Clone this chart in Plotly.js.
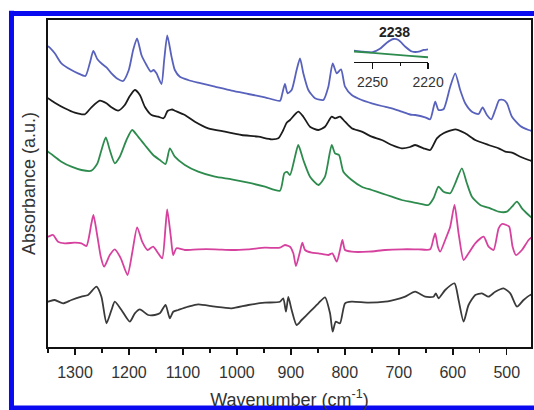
<!DOCTYPE html>
<html>
<head>
<meta charset="utf-8">
<script src="https://cdn.plot.ly/plotly-3.0.1.min.js"></script>
<style>
  html, body { margin: 0; padding: 0; background: #ffffff; overflow: hidden; }
  #chart { width: 534px; height: 410px; }
</style>
</head>
<body>
<div id="chart"></div>
<script>
// Spectrum 1 (blue, top)
const wnBlue = [1352,1348.7,1337.5,1325.2,1306.6,1294.3,1280.7,1272.6,1266,1258.4,1249.7,1241.7,1232.4,1221.3,1210.8,1200.3,1192.2,1185,1176.8,1167.5,1159.5,1154.5,1149,1139.7,1134.7,1129,1121.1,1115,1105.7,1090.2,1071.7,1040.7,1009.8,978.9,948,920,916,911,906,898.5,889.3,883,876.9,867.6,855.2,839.8,830.5,822.5,815,807,799.6,787.2,768.7,750.1,731.6,713,694.5,679,669.6,651.1,641.8,632.5,626.4,617.1,604.7,595.4,586.2,576.9,564.5,552.2,544.7,536.7,528.6,521.2,513.8,505.8,499.6,490.3,474.8,459.4,448.9];
const absBlue = [301,300.3,293.7,283.7,277,273.7,271,283.7,296,287.7,283,279.7,273.7,268.3,266,277,297,308.7,292,282,275.3,277,273.7,263,287,311.5,290.3,277,270.3,267,264.3,260.3,256.3,253,249.7,246.3,253,263,253.7,257,277,288.7,273.7,257,248.7,247,260.3,283.7,273.7,277.7,260.3,252,247,243.7,241,238.7,235.3,232.5,232,229.7,227.7,245.3,237,237.7,260.3,273.7,257,243.7,235.3,233,239.7,232,227.7,237,247,247,243.7,230.3,221,217,215.3];

// Spectrum 2 (black)
const wnBlack = [1352,1350,1337.5,1319,1300.4,1281.9,1269.5,1254.1,1241.7,1232.4,1220.1,1207.7,1198.4,1189.1,1179.8,1170.6,1158.2,1145.8,1136.6,1133.5,1128.5,1120,1115,1096.4,1077.8,1053.1,1022.2,991.3,960.3,935.6,923.2,914,908,901.6,886.2,876.9,864.5,849,836.7,824.3,818.1,808.9,799.6,787.2,768.7,750.1,731.6,713,694.5,679,669.6,654.2,641.8,629.4,617.1,595.4,576.9,558.3,533.6,515,502.7,490.3,474.8,459.4,448.9];
const absBlack = [249,248.7,244.3,238.7,234.3,232.7,239.7,246.3,243.7,239.7,236.3,242,251,257,252,240.3,232,230.3,228.7,230.3,236,237.5,236.3,232,225.3,218.7,215.3,212,210.3,207.7,208.7,217,224,227,235.3,230.3,220.3,217,220.3,230.3,228.7,230.3,225.3,218.7,215.3,210.3,207,202,198.7,200,202,198.7,197,208.7,213.7,217.7,213.7,207,202,198.7,195.3,194.3,190.3,187,185.3];

// Spectrum 3 (green)
const wnGreen = [1352,1350,1337.5,1325.2,1306.6,1288.1,1269.5,1258.4,1250.9,1242.9,1235.5,1226.2,1217,1204.6,1194.1,1183,1170.6,1155.1,1142.8,1132.2,1124.2,1115,1096.4,1071.7,1040.7,1009.8,978.9,948,920.2,912.1,907,901.6,892.3,886.2,876.9,864.5,849,836.7,824.3,818.1,810.7,802.7,787.2,768.7,750.1,731.6,713,694.5,679,663.5,644.9,635.6,626.4,617.1,604.7,595.4,583.1,573.8,564.5,549.1,530.5,515,499.6,490.3,481,471.8,459.4,448.9];
const absGreen = [196,195.3,190.3,185.3,180.3,177,176.3,183.7,197,209.7,197,183.7,190.3,207,217,210.3,202,192,187,183,198.7,190.3,182,175.3,170.3,167.7,164.3,160.3,156.3,173.7,175,172,190.3,202,187,170.3,162,170.3,202,193.7,192,175.3,167,160.3,157,153.7,150.3,147,145.3,143.7,142,148.7,160.3,155.3,153.7,163.7,178.7,163.7,150.3,142,138.7,135.3,135.3,140.3,145.3,138.7,132,127];

// Spectrum 4 (magenta)
const wnMagenta = [1352,1350,1340.6,1331.4,1319,1300.4,1288.1,1278.8,1269.5,1265.8,1258.4,1252.2,1246,1235.5,1226.2,1215.1,1202.7,1194.1,1184.8,1175.5,1165.6,1155.1,1145.8,1138.4,1132.2,1129.1,1122.4,1118,1111.9,1096.4,1071.7,1040.7,1009.8,978.9,948,920.2,910.9,901.6,895.4,890.5,883.1,878.7,873.8,861.4,849,830.5,823.1,815,808.9,804.5,799.6,787.2,756.3,725.4,694.5,663.5,641.8,635.6,632.5,627.6,623.3,614,604.7,596.7,589.2,579.9,570.7,558.3,542.8,533.6,524.3,515,508.9,500.8,495.3,489.1,482.9,471.8,459.4,450.1];
const absMagenta = [110.5,110.3,112,105.3,103.7,104.3,103.7,101,123.7,132,110.3,90.3,80.3,92,97.7,88.7,72,93.7,119.7,105.3,97,100.3,93.7,88.7,120.3,137.7,110.3,92,98.7,97,97.7,97.7,97,97.7,99.3,99.3,102,100.3,93.7,81,95.3,104.3,97,94.3,93.7,92,93.7,85.3,97,107,97,95.3,95.3,97,97.7,97.7,97.7,108.7,113.7,100.3,95.3,107,120.3,142,113.7,87,93.7,103.7,110.3,100.3,97,118.7,123,122,120.3,100.3,92,97,107,111];

// Spectrum 5 (dark grey, bottom)
const wnGrey = [1352,1350,1337.5,1322.1,1306.6,1288.1,1275.7,1260.2,1251,1241.7,1232.4,1226.2,1213.9,1198.4,1189.1,1179.8,1164.4,1152,1142.8,1132.2,1124.2,1118,1108.8,1090.2,1071.7,1040.7,1009.8,978.9,948,920.2,914,909,904.7,898.5,889.3,880,864.5,849,836.7,827.4,822.5,816.9,808.9,799.6,787.2,756.3,725.4,697.6,688.2,669.6,651.1,635.6,631.3,626.4,614,596.7,589.2,579.9,570.7,558.3,545.9,533.6,521.2,505.8,493.4,481,468.7,456.3,448.9];
const absGrey = [45.3,45.3,47,43.7,47,50.3,52,60.3,50.3,23.7,37,45.3,37,25.3,33.7,37.7,32,32,33.7,42,28.7,35.3,37,40.3,42.7,40.3,38.7,42,44.3,45.3,48.7,35.3,50,37,22,27,35.3,43.7,49.7,33.7,15.3,25.3,23.7,43.7,45.3,44.3,45.3,48.7,50.3,55.3,50.3,50.3,53.7,48.7,57,63.7,47,25.3,42,52,53.7,50.3,55.3,58.7,53.7,40.3,47,52,52.7];

// Inset (2260-2220 cm-1)
const wnInsetBlue = [2260,2255,2250,2246,2242.3,2238.7,2236,2232.3,2228.7,2225,2222.4,2220];
const absInsetBlue = [11.3,10.3,9.8,13.2,19.3,23,22,15.3,10.5,10.3,12,12.7];
const wnInsetGreen = [2260,2250,2240,2230,2220];
const absInsetGreen = [10.5,9.2,7.6,6.1,4.7];

const xTitle = 'Wavenumber (cm<sup>-1</sup>)';
const yTitle = 'Absorbance (a.u.)';
const insetLabel = '2238';

const FONT = 'Liberation Sans, Arial, sans-serif';
const lw = 1.8;
function tr(x, y, color, xa, ya) {
  return { x: x, y: y, type: 'scatter', mode: 'lines', xaxis: xa || 'x', yaxis: ya || 'y',
           line: { color: color, width: lw, shape: 'spline', smoothing: 0.6 }, hoverinfo: 'skip' };
}

const data = [
  tr(wnBlue, absBlue, '#5862bc'),
  tr(wnBlack, absBlack, '#1c1c1c'),
  tr(wnGreen, absGreen, '#2e8b4e'),
  tr(wnMagenta, absMagenta, '#d6419e'),
  tr(wnGrey, absGrey, '#3a3a3a'),
  tr(wnInsetBlue, absInsetBlue, '#5862bc', 'x2', 'y2'),
  tr(wnInsetGreen, absInsetGreen, '#2e8b4e', 'x2', 'y2')
];

// decorative blue page frame (left, top, bottom edges), in paper units
const frameColor = '#0a0af0';
const frameShapes = [
  { type: 'line', xref: 'paper', yref: 'paper', x0: -0.0756, x1: -0.0756, y0: -0.20, y1: 1.028, line: { color: frameColor, width: 5 }, layer: 'above' },
  { type: 'line', xref: 'paper', yref: 'paper', x0: -0.0807, x1: 1.01, y0: 1.0199, y1: 1.0199, line: { color: frameColor, width: 5 }, layer: 'above' },
  { type: 'line', xref: 'paper', yref: 'paper', x0: -0.0807, x1: 1.01, y0: -0.1865, y1: -0.1865, line: { color: frameColor, width: 5 }, layer: 'below' }
];

const layout = {
  width: 534, height: 410,
  margin: { l: 48, r: 3, t: 20, b: 63 },
  paper_bgcolor: '#ffffff', plot_bgcolor: '#ffffff',
  showlegend: false,
  font: { family: FONT, color: '#333333' },
  xaxis: {
    range: [1350, 455], showgrid: false, zeroline: false,
    showline: true, mirror: true, linewidth: 2, linecolor: '#111111',
    ticks: 'outside', ticklen: 6, tickwidth: 1.5, tickcolor: '#111111',
    dtick: 100, tick0: 0, ticklabelstandoff: 4,
    minor: { dtick: 50, tick0: 0, ticks: 'outside', ticklen: 4, tickwidth: 1.5, tickcolor: '#111111', showgrid: false },
    tickfont: { family: FONT, size: 16, color: '#333333' },
    title: { text: xTitle, font: { family: FONT, size: 18, color: '#333333' }, standoff: 16 }
  },
  yaxis: {
    range: [0, 327], showgrid: false, zeroline: false,
    showline: true, mirror: true, linewidth: 2, linecolor: '#111111',
    ticks: '', showticklabels: false,
    title: { text: yTitle, font: { family: FONT, size: 18, color: '#333333' }, standoff: 6 }
  },
  xaxis2: {
    domain: [0.6335, 0.787], anchor: 'y2', range: [2260, 2220],
    showgrid: false, zeroline: false, showline: true, linewidth: 1.5, linecolor: '#111111',
    ticks: 'outside', ticklen: 6, tickwidth: 1.5, tickcolor: '#111111',
    tickvals: [2250, 2220], ticklabelstandoff: 1,
    minor: { tickvals: [2235], ticks: 'outside', ticklen: 3, tickwidth: 1.5, tickcolor: '#111111', showgrid: false },
    tickfont: { family: FONT, size: 14, color: '#333333' }
  },
  yaxis2: {
    domain: [0.8716, 0.9694], anchor: 'x2', range: [0, 32], visible: false
  },
  shapes: frameShapes,
  annotations: [
    { text: '<b>' + insetLabel + '</b>', x: 2238, xref: 'x2', y: 0.964, yref: 'paper',
      showarrow: false, font: { family: FONT, size: 14, color: '#222222' }, xanchor: 'center', yanchor: 'middle' }
  ]
};

Plotly.newPlot('chart', data, layout, { staticPlot: true, displayModeBar: false });
</script>
</body>
</html>
